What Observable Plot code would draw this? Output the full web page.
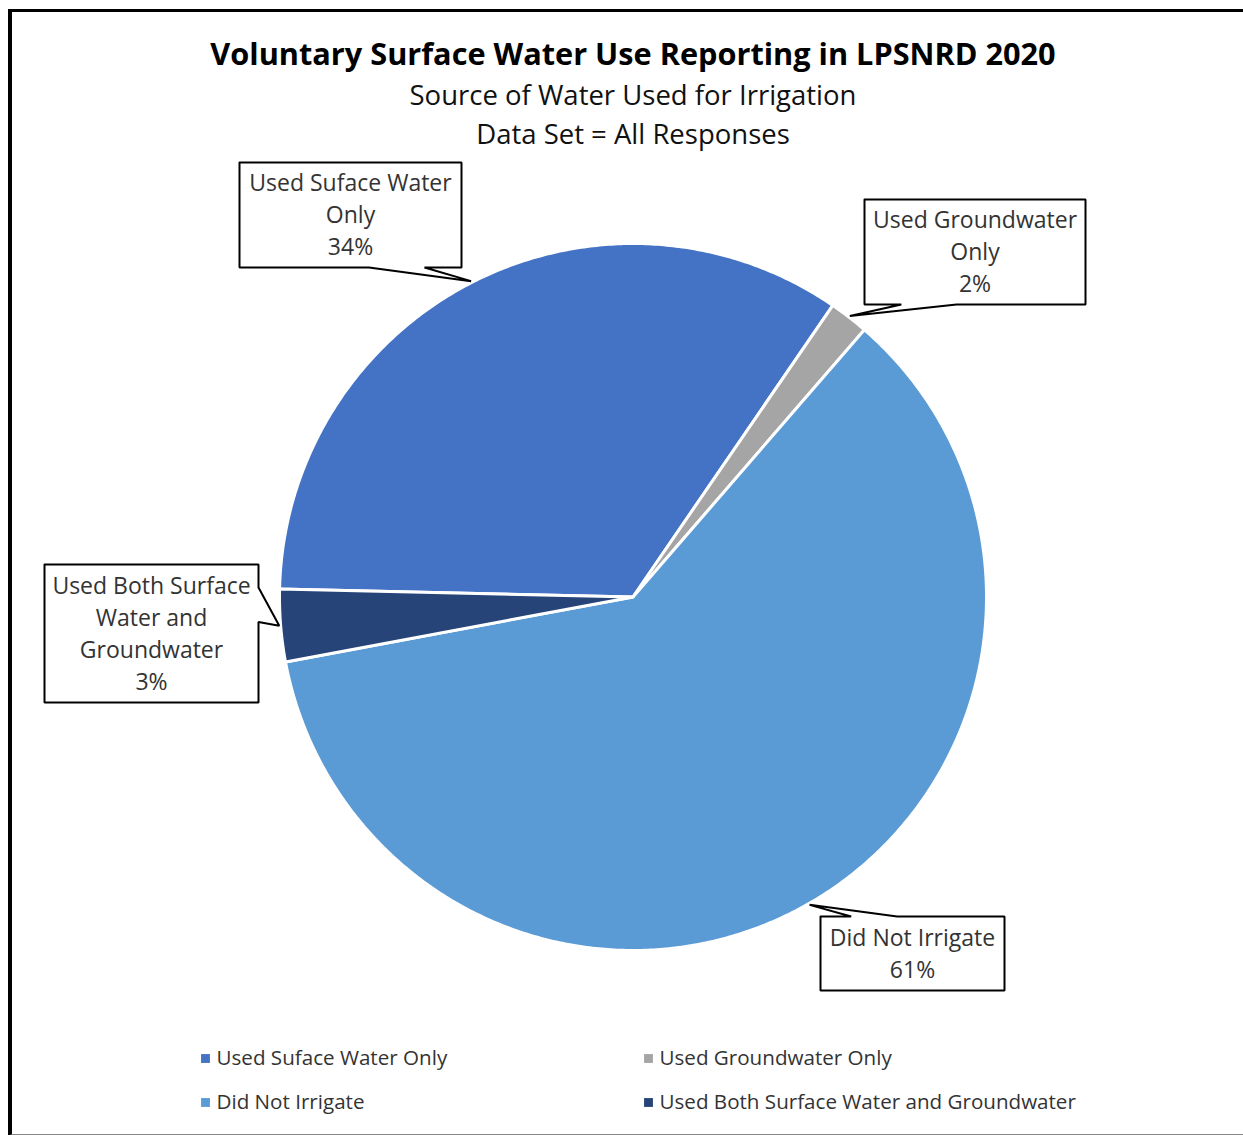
<!DOCTYPE html>
<html>
<head>
<meta charset="utf-8">
<script src="https://cdn.jsdelivr.net/npm/d3@7"></script>
<script src="https://cdn.jsdelivr.net/npm/@observablehq/plot@0.6"></script>
<style>
  html, body { margin: 0; padding: 0; background: #fff; }
  body { width: 1243px; height: 1135px; overflow: hidden; position: relative; }
  #frame { position: absolute; left: 8px; top: 9px; width: 1300px; height: 1122px;
           border-left: 4px solid #000; border-top: 3px solid #000; border-bottom: 2px solid #888; box-sizing: content-box; }
  #chart { position: absolute; left: 0; top: 0; }
  #chart svg { overflow: visible; }
</style>
</head>
<body>
<div id="frame"></div>
<div id="chart"></div>
<script>
// ---------- data ----------
const categories = [
  "Used Suface Water Only",
  "Used Groundwater Only",
  "Did Not Irrigate",
  "Used Both Surface Water and Groundwater"
];
const shares = [34.2, 1.8, 60.7, 3.3];           // percent of responses
const labelLines = [
  ["Used Suface Water", "Only"],
  ["Used Groundwater", "Only"],
  ["Did Not Irrigate"],
  ["Used Both Surface", "Water and", "Groundwater"]
];
const colors = ["#4472C4", "#A5A5A5", "#5B9BD5", "#264478"];
const title = "Voluntary Surface Water Use Reporting in LPSNRD 2020";
const subtitleLines = ["Source of Water Used for Irrigation", "Data Set = All Responses"];

// ---------- layout ----------
const W = 1243, H = 1135;
const CX = 632.5, CY = 596.5, R = 353.5;         // pie centre and radius (px)
const startDeg = 271.3;                           // angle of first slice
const u = px => (px - CX) / R, v = py => (CY - py) / R;
const calloutBoxesPx = [                          // left, top, right, bottom
  [239, 162, 461, 267],
  [864, 199, 1085, 304],
  [820, 916, 1004, 990],
  [44, 564, 258, 702]
];
const legendColX = [u(205), u(648)];
const legendRowY = [v(1058), v(1102)];
const titleY = v(55), subtitleY = [v(96), v(135)];
const FONT = "'Open Sans', Lato, sans-serif";

// ---------- geometry from data ----------
const total = d3.sum(shares);
const rows = categories.map((category, i) => ({category, share: shares[i], i}));
const a0 = startDeg * Math.PI / 180;
const arcs = d3.pie().value(d => d.share).sort(null)
  .startAngle(a0).endAngle(a0 + 2 * Math.PI)(rows);

const slicePts = arcs.flatMap(a => {
  const n = Math.max(2, Math.ceil((a.endAngle - a.startAngle) / (Math.PI / 360)));
  const pts = [{category: a.data.category, x: 0, y: 0}];
  for (let k = 0; k <= n; ++k) {
    const t = a.startAngle + (a.endAngle - a.startAngle) * k / n;
    pts.push({category: a.data.category, x: Math.sin(t), y: Math.cos(t)});
  }
  pts.push({category: a.data.category, x: 0, y: 0});
  return pts;
});

// Office "wedgeRectCallout" outline
function wedgeRect(box, tip) {
  const [l, t, r, b] = box;
  const w = r - l, h = t - b;
  const tx = tip[0] - l, ty = t - tip[1];
  const dx = tx - w / 2, dy = ty - h / 2;
  const dz = Math.abs(dy) - Math.abs(dx * h / w);
  const x1 = w * (dx > 0 ? 7 : 2) / 12, x2 = w * (dx > 0 ? 10 : 5) / 12;
  const y1 = h * (dy > 0 ? 7 : 2) / 12, y2 = h * (dy > 0 ? 10 : 5) / 12;
  const p = [[0, 0]];
  if (dz > 0 && dy < 0) p.push([x1, 0], [tx, ty], [x2, 0]);
  p.push([w, 0]);
  if (dz <= 0 && dx > 0) p.push([w, y1], [tx, ty], [w, y2]);
  p.push([w, h]);
  if (dz > 0 && dy > 0) p.push([x2, h], [tx, ty], [x1, h]);
  p.push([0, h]);
  if (dz <= 0 && dx < 0) p.push([0, y2], [tx, ty], [0, y1]);
  p.push([0, 0]);
  return p.map(([X, Y]) => [l + X, t - Y]);
}

const callouts = arcs.map((a, i) => {
  const mid = (a.startAngle + a.endAngle) / 2;
  const tip = [1.004 * Math.sin(mid), 1.004 * Math.cos(mid)];
  const [pl, pt, pr, pb] = calloutBoxesPx[i];
  const box = [u(pl), v(pt), u(pr), v(pb)];
  return {
    category: a.data.category, box, tip,
    cx: (box[0] + box[2]) / 2, cy: (box[1] + box[3]) / 2 + 2 / R,
    text: labelLines[i].join("\n") + "\n" + Math.round(a.data.share / total * 100) + "%"
  };
});
const calloutPts = callouts.flatMap(c =>
  wedgeRect(c.box, c.tip).map(([x, y]) => ({category: c.category, x, y})));

const legendRows = rows.map(d => ({...d, lx: legendColX[d.i % 2], ly: legendRowY[Math.floor(d.i / 2)]}));
const subRows = subtitleLines.map((t, i) => ({t, y: subtitleY[i]}));

// ---------- plot ----------
const chart = Plot.plot({
  width: W, height: H,
  marginLeft: CX - R, marginRight: W - CX - R,
  marginTop: CY - R, marginBottom: H - CY - R,
  x: {domain: [-1, 1], axis: null},
  y: {domain: [-1, 1], axis: null},
  color: {domain: categories, range: colors},
  style: {fontFamily: FONT, background: "transparent", overflow: "visible"},
  marks: [
    Plot.line(slicePts, {x: "x", y: "y", z: "category", fill: "category",
      stroke: "white", strokeWidth: 3, strokeLinejoin: "round", curve: "linear"}),
    Plot.line(calloutPts, {x: "x", y: "y", z: "category", fill: "white",
      stroke: "black", strokeWidth: 2, strokeLinejoin: "miter"}),
    Plot.text(callouts, {x: "cx", y: "cy", text: "text", lineAnchor: "middle",
      lineHeight: 1.39, fontSize: 23, fill: "#333", fontFamily: FONT}),
    Plot.dot(legendRows, {x: "lx", y: "ly", fill: "category", symbol: "square", r: 5, stroke: null}),
    Plot.text(legendRows, {x: "lx", y: "ly", text: "category", dx: 11, textAnchor: "start",
      lineAnchor: "middle", fontSize: 20.6, fill: "#333", fontFamily: FONT}),
    Plot.text([title], {x: () => 0, y: () => titleY, text: d => d, lineAnchor: "middle",
      fontSize: 30.7, fontWeight: "bold", fill: "#000", fontFamily: FONT}),
    Plot.text(subRows, {x: () => 0, y: "y", text: "t", lineAnchor: "middle",
      fontSize: 27.5, fill: "#111", fontFamily: FONT})
  ]
});
document.getElementById("chart").appendChild(chart);
</script>
</body>
</html>
